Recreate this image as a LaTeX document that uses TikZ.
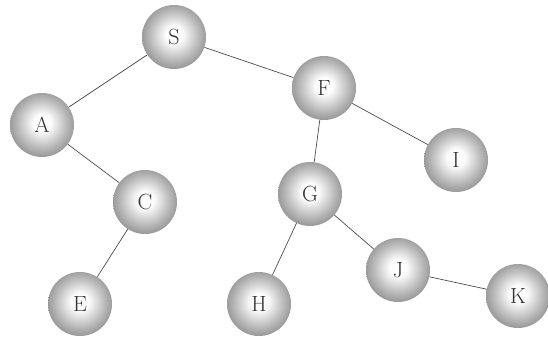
\documentclass[tikz,border=0pt]{standalone}
\usepackage{tikz}
\usetikzlibrary{positioning}

\pgfdeclareradialshading{pearl}{\pgfpoint{0bp}{2bp}}{%
  color(0bp)=(white); color(7bp)=(white!97!gray);
  color(18bp)=(gray!50); color(25bp)=(gray!78); color(50bp)=(gray!78)}

\begin{document}
\begin{tikzpicture}[
  x=1pt, y=1pt,
  ball/.style={circle, shading=pearl, minimum size=64pt, inner sep=0pt, font=\fontsize{22}{22}\selectfont, text=black!80},
  edge/.style={draw=black!70, line width=0.7pt}
]
\useasboundingbox (0,0) rectangle (548,-340);

\node[ball] (S) at (174,-37) {S};
\node[ball] (A) at (42,-125) {A};
\node[ball] (F) at (324,-88) {F};
\node[ball] (I) at (456,-160) {I};
\node[ball] (C) at (145,-202) {C};
\node[ball] (G) at (310,-194) {G};
\node[ball] (J) at (398,-270) {J};
\node[ball] (K) at (518,-296) {K};
\node[ball] (E) at (80,-304) {E};
\node[ball] (H) at (259,-304) {H};

\draw[edge] (S) -- (A);
\draw[edge] (S) -- (F);
\draw[edge] (A) -- (C);
\draw[edge] (C) -- (E);
\draw[edge] (F) -- (G);
\draw[edge] (F) -- (I);
\draw[edge] (G) -- (H);
\draw[edge] (G) -- (J);
\draw[edge] (J) -- (K);
\end{tikzpicture}
\end{document}
